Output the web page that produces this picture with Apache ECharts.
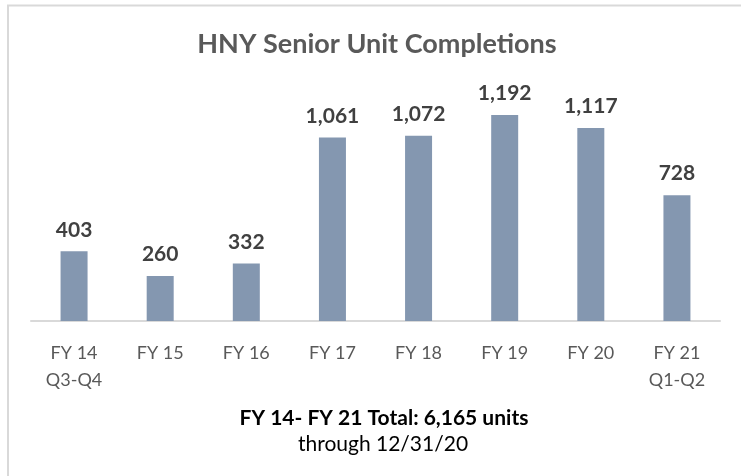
<!DOCTYPE html>
<html>
<head>
<meta charset="utf-8">
<script src="https://cdn.jsdelivr.net/npm/echarts@6/dist/echarts.min.js"></script>
<style>
html,body{margin:0;padding:0;background:#fff;}
#main{width:741px;height:476px;}
</style>
</head>
<body>
<div id="main"></div>
<script>
// 数据
var categories = ['FY 14\nQ3-Q4', 'FY 15', 'FY 16', 'FY 17', 'FY 18', 'FY 19', 'FY 20', 'FY 21\nQ1-Q2'];
var completions = [403, 260, 332, 1061, 1072, 1192, 1117, 728];
var titleText = 'HNY Senior Unit Completions';
var totalText = 'FY 14- FY 21 Total: 6,165 units';
var throughText = 'through 12/31/20';

var chart = echarts.init(document.getElementById('main'));
var fontName = 'Lato';

var option = {
    backgroundColor: '#fff',
    animation: false,
    grid: {
        left: 31,
        right: 21,
        top: 79,
        bottom: 155
    },
    xAxis: {
        type: 'category',
        data: categories,
        axisLine: {
            lineStyle: { color: '#d9d9d9', width: 2 }
        },
        axisTick: { show: false },
        axisLabel: {
            color: '#595959',
            fontFamily: fontName,
            fontSize: 18,
            lineHeight: 27,
            margin: 19
        }
    },
    yAxis: {
        type: 'value',
        min: 0,
        max: 1400,
        show: false,
        splitLine: { show: false }
    },
    series: [{
        type: 'bar',
        data: completions,
        barWidth: 27,
        itemStyle: {
            color: '#8497b0'
        },
        label: {
            show: true,
            position: 'top',
            distance: 11,
            color: '#404040',
            fontFamily: fontName,
            fontWeight: 'bold',
            fontSize: 21,
            formatter: function (p) {
                return p.value.toLocaleString('en-US');
            }
        }
    }],
    graphic: [
        {
            type: 'polyline',
            shape: { points: [[8, 476], [8, 5.5], [741, 5.5]] },
            style: { stroke: '#d9d9d9', lineWidth: 2, fill: null },
            silent: true
        },
        // 标题
        {
            type: 'text',
            x: 377,
            y: 31,
            style: {
                text: titleText,
                fill: '#595959',
                align: 'center',
                font: 'bold 27px ' + fontName
            }
        },
        {
            type: 'text',
            x: 384,
            y: 408,
            style: {
                text: totalText,
                fill: '#000',
                align: 'center',
                font: 'bold 21px ' + fontName
            }
        },
        {
            type: 'text',
            x: 383,
            y: 434,
            style: {
                text: throughText,
                fill: '#000',
                align: 'center',
                font: '21px ' + fontName
            }
        }
    ]
};
chart.setOption(option);
</script>
</body>
</html>
